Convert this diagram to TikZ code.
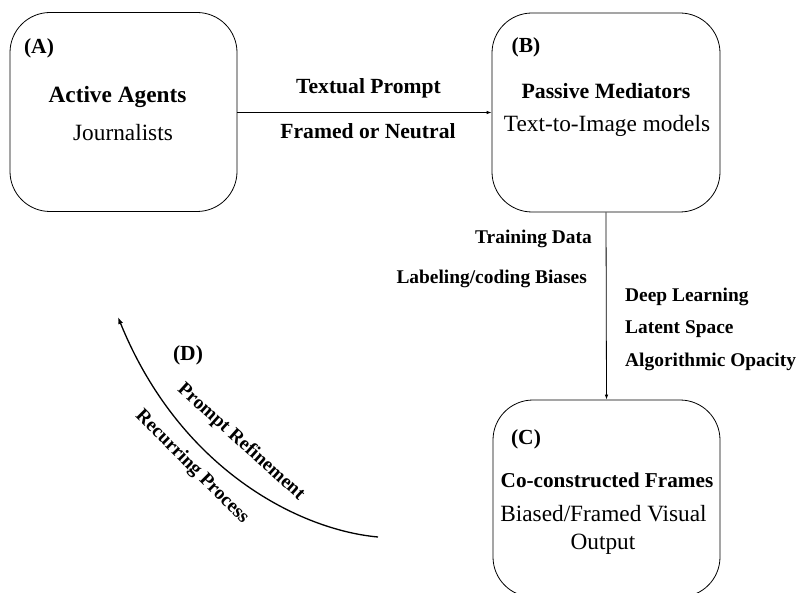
\documentclass[tikz,border=0pt]{standalone}
\usepackage{fontspec}
\setmainfont{Liberation Serif}
\usetikzlibrary{arrows.meta}
\begin{document}
\begin{tikzpicture}[x=1pt,y=-1pt,
  box/.style={draw, line width=0.8pt, rounded corners=40pt, inner sep=0pt},
  tag/.style={inner sep=0pt, font=\fontsize{21.5}{24}\selectfont\bfseries},
  ttl/.style={inner sep=0pt, font=\fontsize{21.8}{24}\selectfont\bfseries},
  sub/.style={inner sep=0pt, font=\fontsize{23.3}{26}\selectfont},
  lbl/.style={inner sep=0pt, font=\fontsize{19.4}{22}\selectfont\bfseries},
  toplbl/.style={inner sep=0pt, font=\fontsize{21.6}{24}\selectfont\bfseries},
  arr/.style={line width=0.8pt, -{Latex[length=5pt,width=3.5pt]}},
  curvearr/.style={line width=1.3pt, -{Latex[length=7pt,width=5pt]}}]
\useasboundingbox (0,0) rectangle (798,593);
\clip (0,0) rectangle (798,593);
% boxes
\node[box, minimum width=227pt, minimum height=199pt] (A) at (123.5,112) {};
\node[box, minimum width=228pt, minimum height=199pt] (B) at (606,112.5) {};
\node[box, minimum width=227pt, minimum height=197pt] (C) at (606.5,498.5) {};
% box A texts
\node[tag] (Atag) at (39,48) {(A)};
\node[ttl, font=\fontsize{23.3}{26}\selectfont\bfseries] (Attl) at (117.5,97) {Active Agents};
\node[sub] (Asub) at (123,133) {Journalists};
% box B texts
\node[tag] (Btag) at (526,47) {(B)};
\node[ttl] (Bttl) at (606,91) {Passive Mediators};
\node[sub] (Bsub) at (607,126) {Text-to-Image models};
% box C texts
\node[tag] (Ctag) at (526,439) {(C)};
\node[ttl, font=\fontsize{21.2}{24}\selectfont\bfseries] (Cttl) at (607,480) {Co-constructed Frames};
\node[sub] (Csub1) at (603.5,514) {Biased/Framed Visual};
\node[sub] (Csub2) at (603,544) {Output};
% connectors
\draw[arr] (A.east |- 0,112.5) -- (B.west |- 0,112.5);
\draw[arr] (B.south) -- (C.north);
% labels
\node[toplbl] (l1) at (368.5,88) {Textual Prompt};
\node[toplbl] (l2) at (368,131) {Framed or Neutral};
\node[lbl, anchor=east] (l3) at (592,239) {Training Data};
\node[lbl, anchor=east] (l4) at (587,279) {Labeling/coding Biases};
\node[lbl, anchor=west] (l5) at (625,297) {Deep Learning};
\node[lbl, anchor=west] (l6) at (625,329) {Latent Space};
\node[lbl, anchor=west] (l7) at (625,362) {Algorithmic Opacity};
% recurring loop
\coordinate (Dstart) at (378,537);
\coordinate (Dend) at (118,317);
\draw[curvearr] (Dstart) .. controls (300,530) and (180,470) .. (Dend);
\node[tag] (Dtag) at (188,355) {(D)};
\node[lbl, rotate=-42] (Dp) at (241,442) {Prompt Refinement};
\node[lbl, rotate=-45] (Dr) at (192,467) {Recurring Process};
\end{tikzpicture}
\end{document}
